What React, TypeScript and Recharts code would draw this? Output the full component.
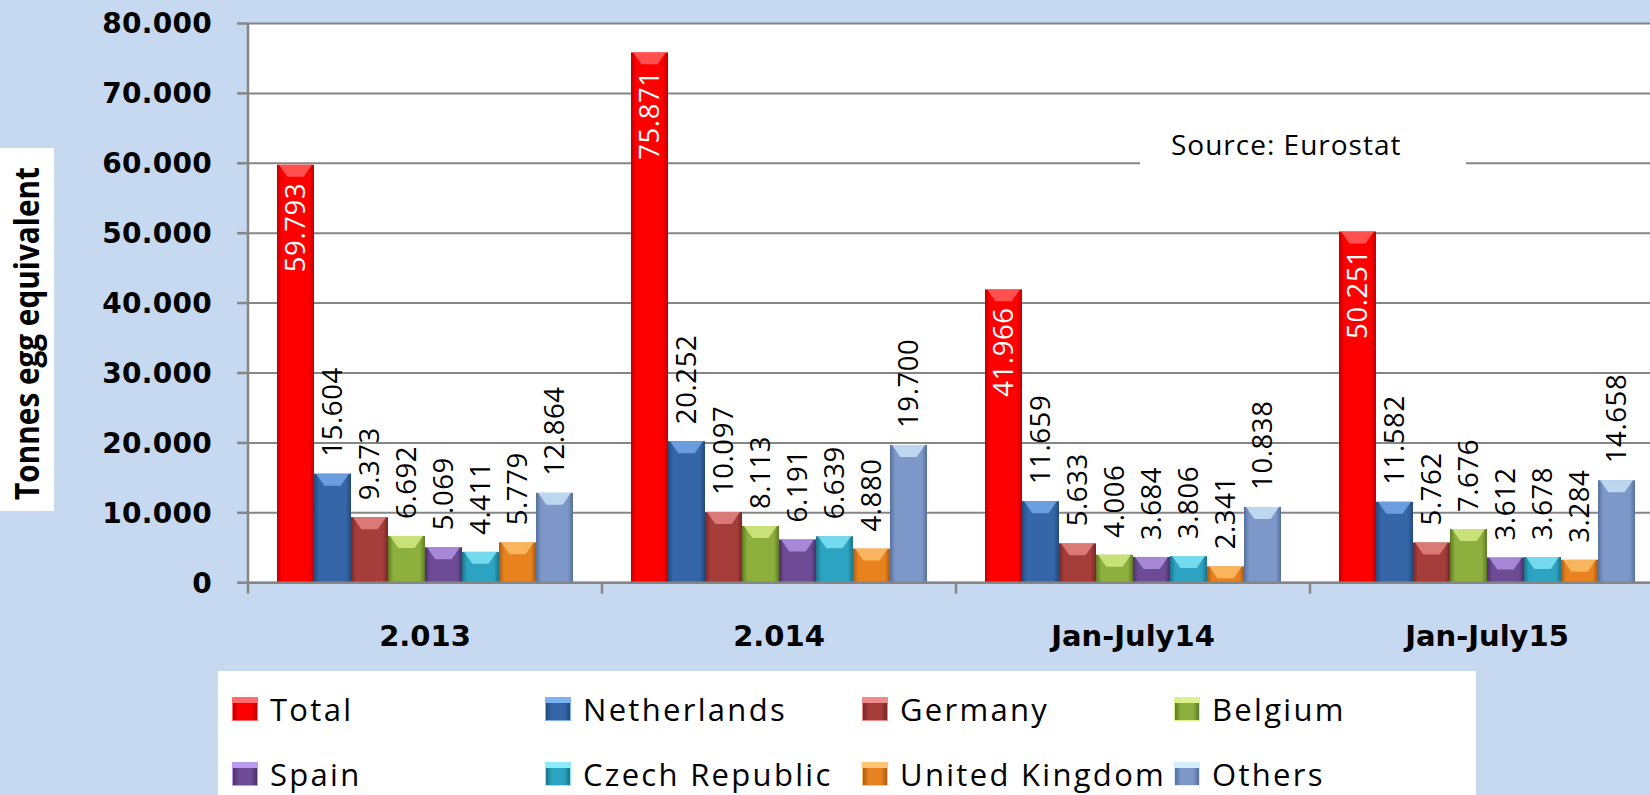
import { BarChart, Bar, XAxis, YAxis, CartesianGrid, Legend, LabelList } from 'recharts'

const categories = ['2.013', '2.014', 'Jan-July14', 'Jan-July15']
const total = [59793, 75871, 41966, 50251]
const netherlands = [15604, 20252, 11659, 11582]
const germany = [9373, 10097, 5633, 5762]
const belgium = [6692, 8113, 4006, 7676]
const spain = [5069, 6191, 3684, 3612]
const czechRepublic = [4411, 6639, 3806, 3678]
const unitedKingdom = [5779, 4880, 2341, 3284]
const others = [12864, 19700, 10838, 14658]
const yTicks = [0, 10000, 20000, 30000, 40000, 50000, 60000, 70000, 80000]

const seriesNames = ['Total', 'Netherlands', 'Germany', 'Belgium', 'Spain', 'Czech Republic', 'United Kingdom', 'Others']
const seriesValues = [total, netherlands, germany, belgium, spain, czechRepublic, unitedKingdom, others]
const baseColors = ['#ff0000', '#3466a8', '#a53d3b', '#8caf3e', '#6d4c95', '#2ca4c1', '#e8821f', '#7d98c8']
const darkColors = ['#c00000', '#234a7c', '#782826', '#5f7a26', '#4a3168', '#1c7388', '#a95a10', '#56709c']
const lightColors = ['#ff6a6a', '#7fb2f2', '#ec8d8b', '#dcf28c', '#bb9cec', '#8cecfc', '#ffc474', '#d4ecff']

const data = categories.map((category, i) => {
  const row: Record<string, string | number> = { category }
  seriesNames.forEach((name, s) => {
    row[name] = seriesValues[s][i]
  })
  return row
})

const fmt = (v: number | string) => String(v).replace(/\B(?=(\d{3})+(?!\d))/g, '.')

const W = 1700
const H = 795
const LEFT = 248
const RIGHT = 36
const band = (W - LEFT - RIGHT) / categories.length
const AXIS = '#868686'

function BevelBar(props: any) {
  const { x, y, width, height, s } = props
  if (!height || height <= 0) return null
  const cap = Math.min(12, height)
  return (
    <g>
      <rect x={x} y={y} width={width} height={height} fill={`url(#side${s})`} />
      <polygon
        points={`${x + 2},${y} ${x + width - 2},${y} ${x + width * 0.72},${y + cap} ${x + width * 0.28},${y + cap}`}
        fill={lightColors[s]}
        opacity={0.75}
      />
    </g>
  )
}

function makeLabel(inside: boolean) {
  return (p: any) => {
    const cx = Number(p.x) + Number(p.width) / 2
    return (
      <g transform={`translate(${cx},${p.y}) rotate(-90)`}>
        <text
          x={inside ? -18 : 17}
          y={0}
          dy="0.36em"
          textAnchor={inside ? 'end' : 'start'}
          fill={inside ? '#fff' : '#000'}
          fontSize={27.5}
          fontFamily="Open Sans"
          letterSpacing={0.6}
        >
          {fmt(p.value)}
        </text>
      </g>
    )
  }
}

function CategoryTick(props: any) {
  const { x, y, payload } = props
  return (
    <g>
      <line x1={x - band / 2} x2={x - band / 2} y1={y} y2={y + 11} stroke={AXIS} strokeWidth={2.5} />
      <text x={x} y={y + 63} textAnchor="middle" fontSize={29} fontWeight={700} fontFamily="DejaVu Sans" fill="#000">
        {payload.value}
      </text>
    </g>
  )
}

function YTitle() {
  return (
    <g>
      <rect x={0} y={148} width={54} height={363} fill="#fff" />
      <text
        transform="translate(39,333.5) rotate(-90)"
        textAnchor="middle"
        fontSize={34}
        fontWeight={700}
        fontFamily="Open Sans"
        textLength={333}
        lengthAdjust="spacingAndGlyphs"
        fill="#000"
      >
        Tonnes egg equivalent
      </text>
    </g>
  )
}

const legendCols = [14, 327, 644, 956]
const legendRows = [37.5, 102.5]

function LegendBox(props: any) {
  const payload = [...(props.payload || [])].sort(
    (a: any, b: any) => seriesNames.indexOf(a.value) - seriesNames.indexOf(b.value),
  )
  return (
    <div style={{ position: 'relative', width: '100%', height: '100%' }}>
      {payload.map((entry: any, i: number) => {
        const s = seriesNames.indexOf(entry.value)
        return (
          <div
            key={entry.value}
            style={{
              position: 'absolute',
              left: legendCols[i % 4],
              top: legendRows[Math.floor(i / 4)] - 20,
              height: 40,
              display: 'flex',
              alignItems: 'center',
              whiteSpace: 'nowrap',
            }}
          >
            <div
              style={{
                width: 24,
                height: 22,
                marginRight: 12,
                border: `1px solid ${lightColors[s]}`,
                background: `linear-gradient(to bottom, ${lightColors[s]} 0, ${lightColors[s]} 22%, transparent 22%), linear-gradient(to right, ${darkColors[s]}, ${baseColors[s]} 25%, ${baseColors[s]} 75%, ${darkColors[s]})`,
              }}
            />
            <span style={{ fontFamily: 'Open Sans', fontSize: 31, letterSpacing: 2.3, color: '#000' }}>{entry.value}</span>
          </div>
        )
      })}
    </div>
  )
}

export default function App() {
  return (
    <div style={{ position: 'absolute', left: 0, top: 0, width: 1650, height: 795, overflow: 'hidden', background: '#c6d9f0' }}>
      <BarChart
        width={W}
        height={H}
        data={data}
        margin={{ top: 23.5, right: RIGHT, bottom: 142.3, left: 0 }}
        barCategoryGap={29}
        barGap={0}
      >
        <defs>
          {seriesNames.map((_, s) => (
            <linearGradient key={s} id={`side${s}`} x1="0" y1="0" x2="1" y2="0">
              <stop offset="0" stopColor={darkColors[s]} />
              <stop offset="0.14" stopColor={baseColors[s]} />
              <stop offset="0.86" stopColor={baseColors[s]} />
              <stop offset="1" stopColor={darkColors[s]} />
            </linearGradient>
          ))}
        </defs>
        <CartesianGrid vertical={false} fill="#fff" stroke={AXIS} strokeWidth={2} />
        <XAxis
          dataKey="category"
          height={70}
          tickSize={0}
          tickMargin={0}
          interval={0}
          axisLine={{ stroke: AXIS, strokeWidth: 2.5 }}
          tickLine={false}
          tick={<CategoryTick />}
        />
        <YAxis
          width={LEFT}
          domain={[0, 80000]}
          ticks={yTicks}
          interval={0}
          tickFormatter={fmt}
          tickSize={11}
          tickMargin={25}
          axisLine={{ stroke: AXIS, strokeWidth: 2.5 }}
          tickLine={{ stroke: AXIS, strokeWidth: 2.5 }}
          tick={{ fill: '#000', fontSize: 28, fontWeight: 700, fontFamily: 'DejaVu Sans', letterSpacing: 0.3 }}
          label={<YTitle />}
        />
        <Legend
          verticalAlign="middle"
          layout="horizontal"
          wrapperStyle={{ left: 218, top: 671, width: 1258, height: 124, background: '#fff' }}
          content={<LegendBox />}
        />
        {seriesNames.map((name, s) => (
          <Bar
            key={name}
            dataKey={name}
            name={name}
            fill={baseColors[s]}
            isAnimationActive={false}
            shape={(p: any) => <BevelBar {...p} s={s} />}
          >
            <LabelList dataKey={name} content={makeLabel(s === 0)} />
          </Bar>
        ))}
      </BarChart>
      <div
        style={{
          position: 'absolute',
          left: 1140,
          top: 120,
          width: 326,
          height: 48,
          background: '#fff',
          paddingLeft: 31,
          boxSizing: 'border-box',
          fontFamily: 'Open Sans',
          fontSize: 28,
          letterSpacing: 1,
          lineHeight: '48px',
          color: '#000',
        }}
      >
        Source: Eurostat
      </div>
    </div>
  )
}
